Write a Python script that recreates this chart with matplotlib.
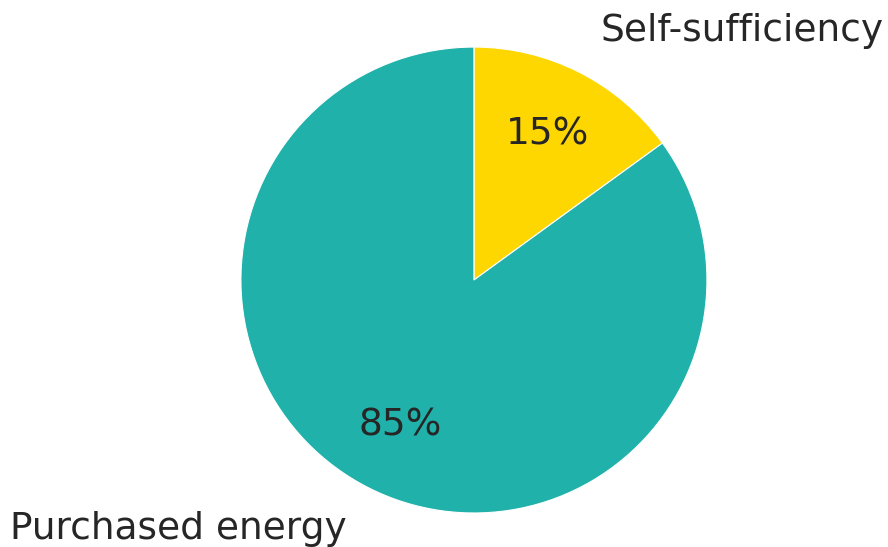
import matplotlib
matplotlib.use("Agg")
import matplotlib.pyplot as plt

labels = ["Self-sufficiency", "Purchased energy"]
shares = [15, 85]
colors = ["#FFD700", "#20B2AA"]

fig = plt.figure(figsize=(8.88, 5.47), dpi=100)
ax = fig.add_axes([0, 0, 1, 1])

wedges, texts, autotexts = ax.pie(
    shares, labels=labels, colors=colors, startangle=90, counterclock=False,
    autopct="%1.0f%%", pctdistance=0.7, labeldistance=1.2,
    wedgeprops=dict(edgecolor="white", linewidth=0.8),
    textprops=dict(color="#262626", fontsize=27),
)

ax.set_xlim(-2.034, 1.777)
ax.set_ylim(-1.146, 1.202)
ax.set_aspect("auto")
ax.axis("off")

fig.savefig("out.png", dpi=100)
plt.close(fig)
